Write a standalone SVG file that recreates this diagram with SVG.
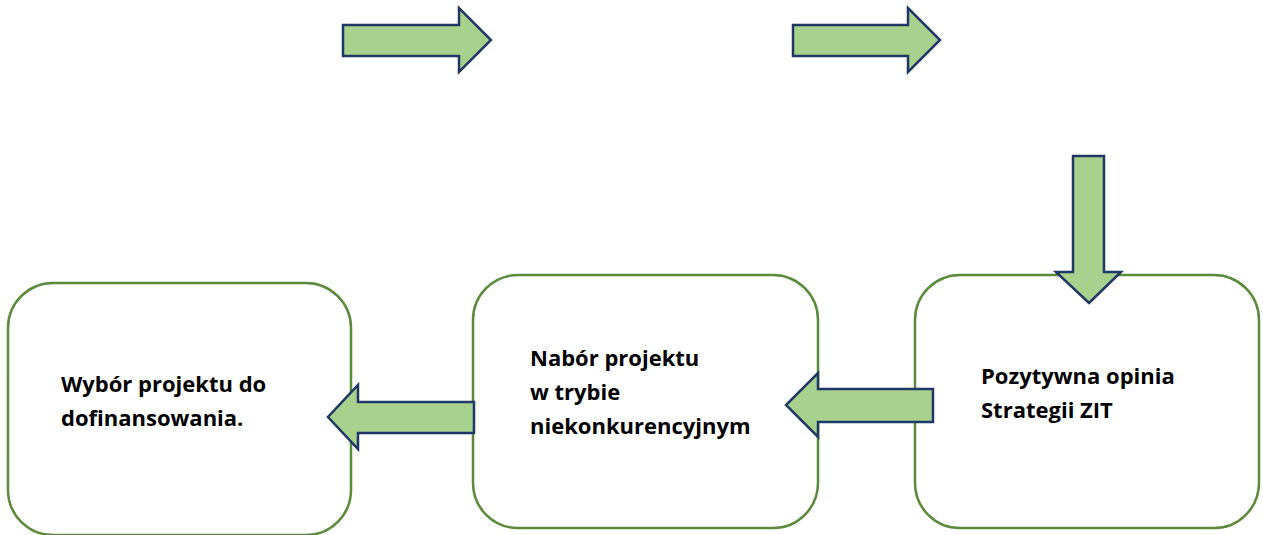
<svg xmlns="http://www.w3.org/2000/svg" width="1263" height="535" viewBox="0 0 1263 535">
<style>
.box{fill:#ffffff;stroke:#5a8a3a;stroke-width:2.5}
.arr{fill:#a9d18e;stroke:#1f3864;stroke-width:2.5;stroke-linejoin:miter}
.t{font-family:"Open Sans","Liberation Sans",sans-serif;font-weight:700;font-size:22px;fill:#000}
</style>
<rect width="1263" height="535" fill="#ffffff"/>
<g id="node-wybor">
<rect class="box" x="8" y="283" width="343" height="252" rx="45" ry="45"/>
<text class="t" x="61" y="392">Wybór projektu do</text>
<text class="t" x="61" y="426">dofinansowania.</text>
</g>
<g id="node-nabor">
<rect class="box" x="473" y="275" width="345" height="253" rx="45" ry="45"/>
<text class="t" x="530" y="366">Nabór projektu</text>
<text class="t" x="530" y="400">w trybie</text>
<text class="t" x="530" y="434">niekonkurencyjnym</text>
</g>
<g id="node-opinia">
<rect class="box" x="915" y="275" width="344" height="253" rx="45" ry="45"/>
<text class="t" x="981" y="384">Pozytywna opinia</text>
<text class="t" x="981" y="418">Strategii ZIT</text>
</g>
<g id="connectors">
<polygon class="arr" points="343,25 459,25 459,8 491,40 459,72 459,56 343,56"/>
<polygon class="arr" points="793,25 908,25 908,8 940,40 908,72 908,56 793,56"/>
<polygon class="arr" points="1073,156 1104,156 1104,272 1121,272 1089,303 1056,272 1073,272"/>
<polygon class="arr" points="933,389 818,389 818,373 786,405 818,437 818,422 933,422"/>
<polygon class="arr" points="474,402 358,402 358,385 328,417 358,449 358,433 474,433"/>
</g>
</svg>
